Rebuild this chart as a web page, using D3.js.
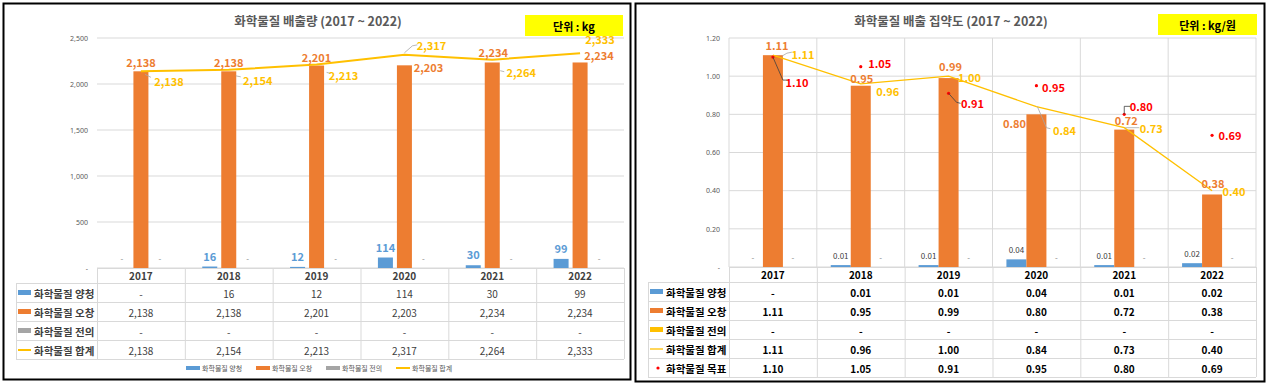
<!DOCTYPE html>
<html><head><meta charset="utf-8">
<script src="https://cdn.jsdelivr.net/npm/d3@7"></script>
<style>body{margin:0;background:#fff}text{font-family:"Noto Sans CJK KR","Noto Sans",sans-serif}</style>
</head><body>
<script>
// ---------- data ----------
const years = ["2017","2018","2019","2020","2021","2022"];
const seriesNames = ["화학물질 양청","화학물질 오창","화학물질 전의","화학물질 합계"];
const targetName = "화학물질 목표";
const leftYangcheong = [0,16,12,114,30,99];
const leftOchang = [2138,2138,2201,2203,2234,2234];
const leftJeonui = [0,0,0,0,0,0];
const leftTotal = [2138,2154,2213,2317,2264,2333];
const leftTicks = [0,500,1000,1500,2000,2500];
const rightYangcheong = [0,0.01,0.01,0.04,0.01,0.02];
const rightOchang = [1.11,0.95,0.99,0.80,0.72,0.38];
const rightJeonui = [0,0,0,0,0,0];
const rightTotal = [1.11,0.96,1.00,0.84,0.73,0.40];
const rightTarget = [1.10,1.05,0.91,0.95,0.80,0.69];
const rightTicks = [0,0.2,0.4,0.6,0.8,1.0,1.2];
const leftTitle = "화학물질 배출량 (2017 ~ 2022)";
const rightTitle = "화학물질 배출 집약도 (2017 ~ 2022)";
const leftUnit = "단위 : kg";
const rightUnit = "단위 : kg/원";

// ---------- styling / label placement (not data) ----------
const C = {blue:"#5B9BD5", orange:"#ED7D31", gray:"#A5A5A5", yellow:"#FFC000", red:"#FF0000", grid:"#D9D9D9", text:"#595959", dark:"#404040"};
const lOchOff = [[0,-9],[0,-9],[0,-9],[24,2],[1,-10],[19,-7]];
const lTotOff = [[28,10],[29,10],[27,11],[27,-10],[29,12],[20,-14]];
const lTotLead = [[[4,3],[10,6]],[[7,6],[12,7]],[[10,8],[14,9]],[[0,-2],[8,-9],[13,-10]],[[8,11],[12,12]],null];
const rOchOff = [[4,-10],[1,-8],[2,-12],[-22,9],[2,-10],[1,-11]];
const rTotOff = [[30,-1],[27,7],[21,1],[28,23],[27,0],[22,0]];
const rTotLead = [[[9,1],[14,-2],[19,-3]],null,null,[[1,0],[10,21],[14,22]],[[1,0],[15,0]],null];
const rTgtOff = [[24,25],[19,-4],[24,10],[17,1],[17,-8],[18,0]];
const rTgtLead = [[[0,0],[10,23],[14,23]],null,[[0,0],[8,9],[12,10]],null,[[0,0],[0,-8],[6,-8]],null];

const fmtL = v => v===0 ? "-" : d3.format(",")(v);
const fmtR = v => v===0 ? "-" : d3.format(".2f")(v);

const svg = d3.select("body").append("svg").attr("width",1269).attr("height",384);

// panel borders
svg.append("rect").attr("x",3.5).attr("y",3.5).attr("width",627).attr("height",376)
  .attr("fill","none").attr("stroke","#000").attr("stroke-width",2);
svg.append("rect").attr("x",635.5).attr("y",3.5).attr("width",629).attr("height",378)
  .attr("fill","none").attr("stroke","#000").attr("stroke-width",2);

function txt(g, x, y, s, o) {
  return g.append("text").attr("x",x).attr("y",y).text(s)
    .attr("text-anchor", o.anchor || "middle").attr("dominant-baseline","central")
    .attr("font-size", o.size || 10).attr("fill", o.fill || "#000")
    .attr("font-weight", o.weight || "normal");
}
function leader(g, px, py, pts, color) {
  if (!pts) return;
  g.append("path").attr("d", d3.line()(pts.map(p=>[px+p[0],py+p[1]])))
    .attr("fill","none").attr("stroke", color).attr("stroke-width",0.8);
}

function drawChart(cfg) {
  const g = svg.append("g");
  const x = d3.scaleBand().domain(years).range([cfg.x0, cfg.x1]);
  const y = d3.scaleLinear().domain([0, cfg.max]).range([cfg.base, cfg.top]);
  const n = 3;
  const half = (cfg.step*n - (cfg.step-cfg.barW))/2;
  const sub = d3.scaleBand().domain(d3.range(n)).range([-half, half])
    .paddingInner((cfg.step-cfg.barW)/cfg.step);
  const cx = i => x(years[i]) + x.bandwidth()/2;

  // title & unit
  txt(g, cfg.titleX, 20, cfg.title, {size:12.5, weight:"bold", fill:C.text});
  g.append("rect").attr("x",cfg.unit[0]).attr("y",cfg.unit[1]).attr("width",cfg.unit[2]).attr("height",cfg.unit[3]).attr("fill","#FFFF00");
  txt(g, cfg.unit[0]+cfg.unit[2]/2, cfg.unit[1]+cfg.unit[3]/2, cfg.unitText, {size:11, weight:"bold"});

  // gridlines
  g.selectAll(".hg").data(cfg.ticks).join("line")
    .attr("x1",cfg.x0).attr("x2",cfg.x1).attr("y1",d=>y(d)).attr("y2",d=>y(d))
    .attr("stroke",C.grid).attr("stroke-width",1);
  if (cfg.vgrid) {
    const vx = years.map(d=>x(d)).concat([cfg.x1]);
    g.selectAll(".vg").data(vx).join("line")
      .attr("x1",d=>d).attr("x2",d=>d).attr("y1",cfg.top).attr("y2",cfg.base)
      .attr("stroke",C.grid).attr("stroke-width",1);
  }
  // axis
  const ax = g.append("g").attr("transform",`translate(${cfg.x0},0)`)
    .call(d3.axisLeft(y).tickValues(cfg.ticks).tickFormat(cfg.tickFmt).tickSize(0).tickPadding(cfg.x0-cfg.tickX));
  ax.select(".domain").remove();
  ax.selectAll("text").attr("font-size",7).attr("fill",C.text)
    .style("font-family",'"Noto Sans","Noto Sans CJK KR",sans-serif');

  // bars
  const bars = [cfg.s1, cfg.s2, cfg.s3];
  const cols = [C.blue, C.orange, cfg.s3Color];
  bars.forEach((vals, s) => {
    g.selectAll(null).data(vals).join("rect")
      .attr("x",(d,i)=>cx(i)+sub(s)).attr("width",sub.bandwidth())
      .attr("y",d=>y(d)).attr("height",d=>cfg.base-y(d)).attr("fill",cols[s]);
  });
  // line
  g.append("path").datum(cfg.total)
    .attr("d", d3.line().x((d,i)=>cx(i)).y(d=>y(d)))
    .attr("fill","none").attr("stroke",C.yellow).attr("stroke-width",cfg.lineW);

  // target markers
  if (cfg.target) {
    g.selectAll(null).data(cfg.target).join("circle")
      .attr("cx",(d,i)=>cx(i)).attr("cy",d=>y(d)).attr("r",1.6).attr("fill",C.red);
  }

  // labels: small series
  cfg.s1.forEach((v,i)=>{
    const bx = cx(i)+sub(0)+sub.bandwidth()/2;
    if (v===0) txt(g,bx,cfg.base-10,"-",{size:8,fill:"#7F7F7F"});
    else txt(g,bx,y(v)-cfg.s1Dy,cfg.fmt(v),cfg.s1Style);
  });
  cfg.s3.forEach((v,i)=>{
    const bx = cx(i)+sub(2)+sub.bandwidth()/2;
    txt(g,bx,cfg.base-10,cfg.fmt(v),{size:8,fill:"#7F7F7F"});
  });
  // orange labels
  cfg.s2.forEach((v,i)=>{
    txt(g,cx(i)+cfg.ochOff[i][0], y(v)+cfg.ochOff[i][1], cfg.fmt(v), {size:11,weight:"bold",fill:C.orange});
  });
  // total labels
  cfg.total.forEach((v,i)=>{
    leader(g, cx(i), y(v), cfg.totLead[i], "#A6A6A6");
    txt(g,cx(i)+cfg.totOff[i][0], y(v)+cfg.totOff[i][1], cfg.fmt(v), {size:11,weight:"bold",fill:C.yellow});
  });
  if (cfg.target) {
    cfg.target.forEach((v,i)=>{
      leader(g, cx(i), y(v), cfg.tgtLead[i], "#404040");
      txt(g,cx(i)+cfg.tgtOff[i][0], y(v)+cfg.tgtOff[i][1], cfg.fmt(v), {size:11,weight:"bold",fill:C.red});
    });
  }

  // table
  const rows = [
    {name:seriesNames[0], vals:cfg.s1, sw:"rect", col:C.blue},
    {name:seriesNames[1], vals:cfg.s2, sw:"rect", col:C.orange},
    {name:seriesNames[2], vals:cfg.s3, sw:"rect", col:cfg.s3Color},
    {name:seriesNames[3], vals:cfg.total, sw:"line", col:C.yellow}
  ];
  if (cfg.target) rows.push({name:targetName, vals:cfg.target, sw:"dot", col:C.red});
  const hdrB = cfg.base + 15, rh = 19;
  const tBottom = hdrB + rh*rows.length;
  const tg = g.append("g");
  tg.append("line").attr("x1",cfg.x0).attr("x2",cfg.x1).attr("y1",cfg.base+0.5).attr("y2",cfg.base+0.5).attr("stroke",C.grid);
  d3.range(rows.length+1).forEach(r=>{
    const yy = hdrB + r*rh + 0.5;
    tg.append("line").attr("x1",cfg.tx0).attr("x2",cfg.x1).attr("y1",yy).attr("y2",yy).attr("stroke",C.grid);
  });
  years.map(d=>x(d)).concat([cfg.x1]).forEach(vx=>{
    tg.append("line").attr("x1",vx+0.5).attr("x2",vx+0.5).attr("y1",cfg.base).attr("y2",tBottom).attr("stroke",C.grid);
  });
  tg.append("line").attr("x1",cfg.tx0+0.5).attr("x2",cfg.tx0+0.5).attr("y1",hdrB).attr("y2",tBottom).attr("stroke",C.grid);
  years.forEach((yr,i)=> txt(tg, cx(i), cfg.base+7.5, yr, {size:10,weight:"bold",fill:cfg.tblHead}));
  rows.forEach((row,r)=>{
    const yc = hdrB + r*rh + rh/2 + 0.5;
    const sx = cfg.tx0 + 2;
    if (row.sw==="rect") tg.append("rect").attr("x",sx).attr("y",yc-3).attr("width",13).attr("height",5).attr("fill",row.col);
    else if (row.sw==="line") tg.append("line").attr("x1",sx).attr("x2",sx+13).attr("y1",yc).attr("y2",yc).attr("stroke",row.col).attr("stroke-width",cfg.lineW);
    else tg.append("circle").attr("cx",sx+8).attr("cy",yc).attr("r",1.6).attr("fill",row.col);
    txt(tg, sx+16, yc, row.name, {size:10.5,weight:"bold",fill:cfg.tblLabel,anchor:"start"});
    row.vals.forEach((v,i)=> txt(tg, cx(i), yc, cfg.fmt(v), {size:10,weight:cfg.tblValW,fill:cfg.tblVal}));
  });
}

// left chart
drawChart({
  x0:97, x1:624, top:38, base:268, max:2500, ticks:leftTicks, tickX:88,
  tickFmt: fmtL, fmt: fmtL, vgrid:false, barW:15, step:19, lineW:2,
  s1:leftYangcheong, s2:leftOchang, s3:leftJeonui, s3Color:C.gray, total:leftTotal,
  s1Dy:11, s1Style:{size:11,weight:"bold",fill:C.blue},
  ochOff:lOchOff, totOff:lTotOff, totLead:lTotLead,
  title:leftTitle, titleX:318, unit:[525,15,98,21], unitText:leftUnit,
  tx0:16, tblHead:C.dark, tblLabel:C.dark, tblVal:C.dark, tblValW:"normal"
});
// left legend
(function(){
  const lg = svg.append("g");
  const xs = [186,256,326,396];
  const cols = [C.blue, C.orange, C.gray, C.yellow];
  seriesNames.forEach((nm,i)=>{
    if (i<3) lg.append("rect").attr("x",xs[i]).attr("y",366).attr("width",14).attr("height",4).attr("fill",cols[i]);
    else lg.append("line").attr("x1",xs[i]).attr("x2",xs[i]+14).attr("y1",368).attr("y2",368).attr("stroke",cols[i]).attr("stroke-width",2);
    txt(lg, xs[i]+16, 368, nm, {size:7,fill:C.text,anchor:"start"});
  });
})();

// right chart
drawChart({
  x0:729, x1:1256, top:38, base:267, max:1.2, ticks:rightTicks, tickX:720,
  tickFmt: fmtR, fmt: fmtR, vgrid:true, barW:20, step:20, lineW:1.3,
  s1:rightYangcheong, s2:rightOchang, s3:rightJeonui, s3Color:C.yellow, total:rightTotal, target:rightTarget,
  s1Dy:9.5, s1Style:{size:8,fill:C.dark},
  ochOff:rOchOff, totOff:rTotOff, totLead:rTotLead,
  tgtOff:rTgtOff, tgtLead:rTgtLead,
  title:rightTitle, titleX:951, unit:[1158,14,99,21], unitText:rightUnit,
  tx0:648, tblHead:"#000", tblLabel:"#000", tblVal:"#000", tblValW:"bold"
});
</script>
</body></html>
